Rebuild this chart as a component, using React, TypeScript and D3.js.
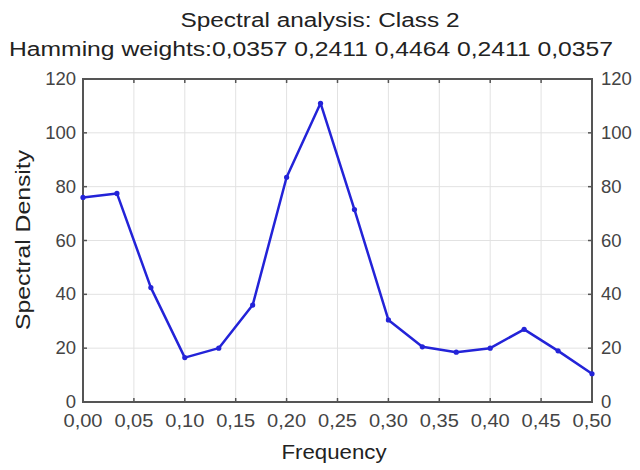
import React from "react";
import * as d3 from "d3";

const frequencies = [0, 1/30, 2/30, 3/30, 4/30, 5/30, 6/30, 7/30, 8/30, 9/30, 10/30, 11/30, 12/30, 13/30, 14/30, 15/30];
const density = [76, 77.5, 42.5, 16.5, 20, 36, 83.5, 111, 71.5, 30.5, 20.5, 18.5, 20, 27, 19, 10.5];
const xTicks = [0, 0.05, 0.1, 0.15, 0.2, 0.25, 0.3, 0.35, 0.4, 0.45, 0.5];
const yTicks = [0, 20, 40, 60, 80, 100, 120];
const title1 = "Spectral analysis: Class 2";
const title2 = "Hamming weights:0,0357 0,2411 0,4464 0,2411 0,0357";
const xLabel = "Frequency";
const yLabel = "Spectral Density";

export default function App() {
  const W = 640, H = 470;
  const m = { left: 83, right: 592, top: 79, bottom: 402 };
  const x = d3.scaleLinear().domain([0, 0.5]).range([m.left, m.right]);
  const y = d3.scaleLinear().domain([0, 120]).range([m.bottom, m.top]);
  const fmt = (v: number) => v.toFixed(2).replace(".", ",");
  const line = d3.line<number>().x((_, i) => x(frequencies[i])).y((d) => y(d));
  const font = "Liberation Sans, Arial, sans-serif";
  const tickColor = "#444";
  return (
    <svg width={W} height={H} style={{ position: "absolute", left: 0, top: 0, background: "#fff" }} fontFamily={font}>
      <rect x={0} y={0} width={W} height={H} fill="#fff" />
      <text x={320} y={27} textAnchor="middle" fontSize={20} fill="#222" textLength={279} lengthAdjust="spacingAndGlyphs">{title1}</text>
      <text x={311} y={56} textAnchor="middle" fontSize={20} fill="#222" textLength={604} lengthAdjust="spacingAndGlyphs">{title2}</text>
      {xTicks.map((t) => (
        <line key={"gx" + t} x1={x(t)} x2={x(t)} y1={m.top} y2={m.bottom} stroke="#e2e2e2" strokeWidth={1} />
      ))}
      {yTicks.map((t) => (
        <line key={"gy" + t} x1={m.left} x2={m.right} y1={y(t)} y2={y(t)} stroke="#e2e2e2" strokeWidth={1} />
      ))}
      <rect x={m.left} y={m.top} width={m.right - m.left} height={m.bottom - m.top} fill="none" stroke="#555" strokeWidth={2} />
      {xTicks.map((t) => (
        <g key={"tx" + t}>
          <line x1={x(t)} x2={x(t)} y1={m.bottom} y2={m.bottom - 4} stroke="#555" strokeWidth={1.5} />
          <line x1={x(t)} x2={x(t)} y1={m.top} y2={m.top + 4} stroke="#555" strokeWidth={1.5} />
          <text x={x(t)} y={427} textAnchor="middle" fontSize={18} fill={tickColor} textLength={39} lengthAdjust="spacingAndGlyphs">{fmt(t)}</text>
        </g>
      ))}
      {yTicks.map((t) => (
        <g key={"ty" + t}>
          <line x1={m.left} x2={m.left + 4} y1={y(t)} y2={y(t)} stroke="#555" strokeWidth={1.5} />
          <line x1={m.right} x2={m.right - 4} y1={y(t)} y2={y(t)} stroke="#555" strokeWidth={1.5} />
          <text x={76} y={y(t) + 6} textAnchor="end" fontSize={18.5} fill={tickColor}>{t}</text>
          <text x={601} y={y(t) + 6} textAnchor="start" fontSize={18.5} fill={tickColor}>{t}</text>
        </g>
      ))}
      <path d={line(density) || ""} fill="none" stroke="#2323d8" strokeWidth={2.5} strokeLinejoin="round" />
      {density.map((d, i) => (
        <circle key={"p" + i} cx={x(frequencies[i])} cy={y(d)} r={2.6} fill="#2323d8" />
      ))}
      <text x={334} y={459} textAnchor="middle" fontSize={20} fill="#222" textLength={105} lengthAdjust="spacingAndGlyphs">{xLabel}</text>
      <text transform={`translate(30,240) rotate(-90)`} textAnchor="middle" fontSize={21} fill="#222" textLength={180} lengthAdjust="spacingAndGlyphs">{yLabel}</text>
    </svg>
  );
}
